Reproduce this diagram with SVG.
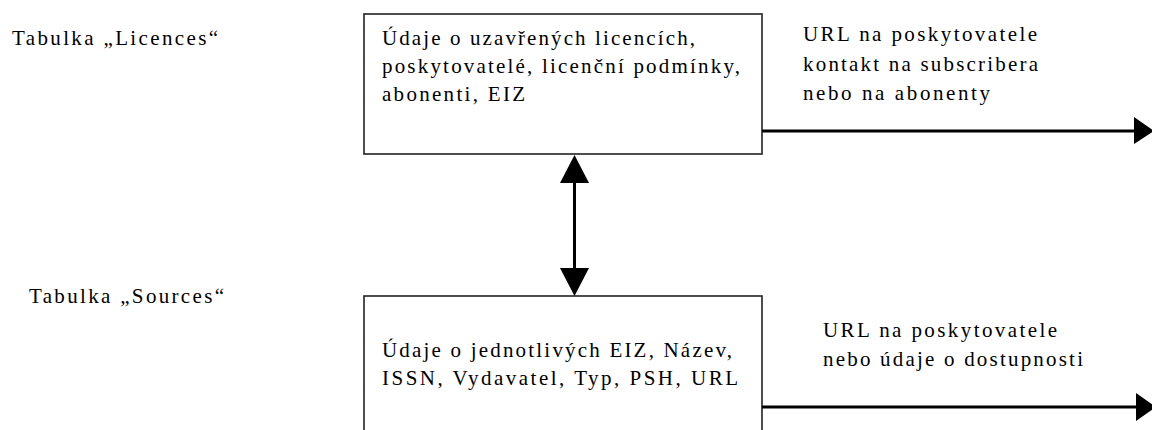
<svg xmlns="http://www.w3.org/2000/svg" width="1152" height="430" viewBox="0 0 1152 430">
<style>
text{font-family:"Liberation Serif","Times New Roman",serif;font-size:21px;fill:#000}
.box{fill:#fff;stroke:#222;stroke-width:1.6}
.conn{stroke:#000;stroke-width:3;fill:none}
.head{fill:#000}
</style>
<rect width="1152" height="430" fill="#fff"/>
<g id="label-licences"><text x="12" y="45" textLength="206" lengthAdjust="spacing">Tabulka „Licences“</text></g>
<g id="label-sources"><text x="29" y="303" textLength="195" lengthAdjust="spacing">Tabulka „Sources“</text></g>
<g id="node-licences">
<rect class="box" x="364" y="14" width="398" height="140"/>
<text x="382" y="45" textLength="313" lengthAdjust="spacing">Údaje o uzavřených licencích,</text>
<text x="382" y="73" textLength="358" lengthAdjust="spacing">poskytovatelé, licenční podmínky,</text>
<text x="382" y="101" textLength="143" lengthAdjust="spacing">abonenti, EIZ</text>
</g>
<g id="node-sources">
<rect class="box" x="364" y="296" width="398" height="150"/>
<text x="382" y="357" textLength="350" lengthAdjust="spacing">Údaje o jednotlivých EIZ, Název,</text>
<text x="382" y="385" textLength="356" lengthAdjust="spacing">ISSN, Vydavatel, Typ, PSH, URL</text>
</g>
<g id="connectors">
<line class="conn" x1="574.5" y1="180" x2="574.5" y2="270"/>
<polygon class="head" points="574.5,155 560,183 589,183"/>
<polygon class="head" points="574.5,296 560,268 589,268"/>
<line class="conn" x1="762" y1="131" x2="1136" y2="131"/>
<polygon class="head" points="1134,117 1134,144 1154,131"/>
<line class="conn" x1="762" y1="407" x2="1138" y2="407"/>
<polygon class="head" points="1136,393 1136,421 1156,407"/>
</g>
<g id="label-out1">
<text x="803" y="41" textLength="234" lengthAdjust="spacing">URL na poskytovatele</text>
<text x="803" y="71" textLength="235" lengthAdjust="spacing">kontakt na subscribera</text>
<text x="803" y="100" textLength="187" lengthAdjust="spacing">nebo na abonenty</text>
</g>
<g id="label-out2">
<text x="823" y="337" textLength="234" lengthAdjust="spacing">URL na poskytovatele</text>
<text x="823" y="366" textLength="260" lengthAdjust="spacing">nebo údaje o dostupnosti</text>
</g>
</svg>
